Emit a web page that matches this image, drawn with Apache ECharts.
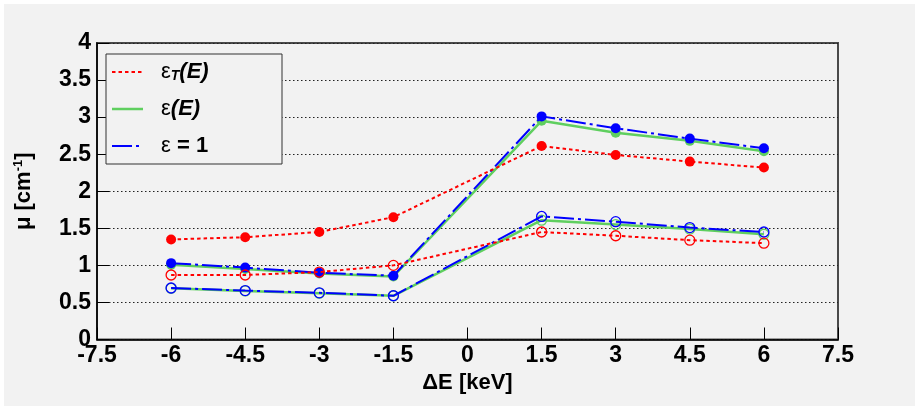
<!DOCTYPE html>
<html>
<head>
<meta charset="utf-8">
<script src="https://cdn.jsdelivr.net/npm/echarts@6/dist/echarts.min.js"></script>
<style>
  html, body { margin: 0; padding: 0; background: #ffffff; }
  #chart { position: absolute; left: 4px; top: 4px; width: 911px; height: 402px; }
</style>
</head>
<body>
<div id="chart"></div>
<script>
// Energy offsets (keV)
const deltaE = [-6, -4.5, -3, -1.5, 1.5, 3, 4.5, 6];

// Attenuation coefficient mu [cm^-1], two curves (filled / open markers) per efficiency model
const muEpsT_filled = [1.35, 1.38, 1.45, 1.65, 2.61, 2.49, 2.40, 2.32];
const muEpsT_open   = [0.87, 0.87, 0.91, 1.00, 1.45, 1.40, 1.34, 1.30];
const muEps_filled  = [1.01, 0.95, 0.89, 0.85, 2.95, 2.79, 2.68, 2.54];
const muEps_open    = [0.69, 0.655, 0.625, 0.59, 1.61, 1.55, 1.49, 1.42];
const muOne_filled  = [1.03, 0.97, 0.90, 0.86, 3.01, 2.85, 2.71, 2.58];
const muOne_open    = [0.695, 0.66, 0.63, 0.59, 1.66, 1.59, 1.51, 1.45];

// Axis ticks
const xTicks = { min: -7.5, max: 7.5, step: 1.5 };
const yTicks = { min: 0, max: 4, step: 0.5 };

const RED = '#ff0000', GREEN = '#5fcf5f', BLUE = '#0000ff', BG = '#f2f2f2';
const FONT = '"Liberation Sans", Arial, sans-serif';

const pairs = ys => deltaE.map((x, i) => [x, ys[i]]);

function curve(name, ys, color, lineType, width, filled, z) {
  return {
    name: name,
    type: 'line',
    data: pairs(ys),
    z: z,
    symbol: 'circle',
    symbolSize: 10,
    showSymbol: true,
    animation: false,
    lineStyle: { color: color, width: width, type: lineType },
    itemStyle: filled
      ? { color: color, borderColor: color, borderWidth: 0 }
      : { color: 'rgba(0,0,0,0)', borderColor: color, borderWidth: 1.3 },
    emphasis: { disabled: true }
  };
}

const dotted = [3.5, 3];
const dashDot = [20, 4, 3, 4];

const chart = echarts.init(document.getElementById('chart'), null, { renderer: 'canvas' });

const legendX = 102, legendY = 50;
const rowY = [legendY + 18, legendY + 55, legendY + 92];

chart.setOption({
  backgroundColor: BG,
  animation: false,
  grid: {
    left: 93, right: 77, top: 39, bottom: 66.5,
    show: true, borderColor: '#4a4a4a', borderWidth: 2, backgroundColor: 'transparent'
  },
  xAxis: {
    type: 'value',
    min: xTicks.min, max: xTicks.max, interval: xTicks.step,
    name: 'ΔE [keV]',
    nameLocation: 'middle',
    nameGap: 31,
    nameTextStyle: { fontFamily: FONT, fontWeight: 'bold', fontSize: 22, color: '#000' },
    axisLine: { show: true, onZero: false, lineStyle: { color: '#000', width: 1.5 } },
    axisTick: { show: true, inside: true, length: 12, lineStyle: { color: '#000', width: 1 } },
    axisLabel: { fontFamily: FONT, fontWeight: 'bold', fontSize: 23, color: '#000', margin: 5,
                 showMinLabel: true, showMaxLabel: true },
    splitLine: { show: false }
  },
  yAxis: {
    type: 'value',
    min: yTicks.min, max: yTicks.max, interval: yTicks.step,
    name: 'μ [cm{sup|-1}]',
    nameLocation: 'middle',
    nameGap: 62,
    nameRotate: 90,
    nameTextStyle: {
      fontFamily: FONT, fontWeight: 'bold', fontSize: 22, color: '#000',
      rich: { sup: { fontFamily: FONT, fontWeight: 'bold', fontSize: 13, color: '#000', verticalAlign: 'top', padding: [0, 0, 10, 0] } }
    },
    axisLine: { show: true, onZero: false, lineStyle: { color: '#000', width: 1.5 } },
    axisTick: { show: true, inside: true, length: 12, lineStyle: { color: '#000', width: 1 } },
    axisLabel: { fontFamily: FONT, fontWeight: 'bold', fontSize: 23, color: '#000', margin: 6 },
    splitLine: { show: true, lineStyle: { color: '#222', width: 1, type: [1.5, 2.5] } }
  },
  series: [
    curve('ε(E) filled', muEps_filled, GREEN, 'solid', 2.5, true, 2),
    curve('ε(E) open', muEps_open, GREEN, 'solid', 2.5, false, 2),
    curve('ε = 1 filled', muOne_filled, BLUE, dashDot, 2, true, 3),
    curve('ε = 1 open', muOne_open, BLUE, dashDot, 2, false, 3),
    curve('εT(E) filled', muEpsT_filled, RED, dotted, 2, true, 4),
    curve('εT(E) open', muEpsT_open, RED, dotted, 2, false, 4)
  ],
  graphic: [
    {
      type: 'rect', z: 100,
      shape: { x: legendX, y: legendY, width: 176, height: 110 },
      style: { fill: BG, stroke: '#333', lineWidth: 1 }
    },
    { type: 'line', z: 101, shape: { x1: legendX + 6, y1: rowY[0], x2: legendX + 37, y2: rowY[0] },
      style: { stroke: RED, lineWidth: 2, lineDash: dotted } },
    { type: 'line', z: 101, shape: { x1: legendX + 6, y1: rowY[1], x2: legendX + 37, y2: rowY[1] },
      style: { stroke: GREEN, lineWidth: 2.5 } },
    { type: 'line', z: 101, shape: { x1: legendX + 6, y1: rowY[2], x2: legendX + 37, y2: rowY[2] },
      style: { stroke: BLUE, lineWidth: 2, lineDash: dashDot } },
    { type: 'text', z: 101, style: {
        x: legendX + 55, y: rowY[0], verticalAlign: 'middle',
        text: '{g|ε}{s|T}{i|(E)}',
        rich: {
          g: { fontFamily: FONT, fontSize: 22, color: '#000' },
          s: { fontFamily: FONT, fontSize: 14, fontWeight: 'bold', fontStyle: 'italic', color: '#000', verticalAlign: 'bottom', padding: [8, 0, 0, 0] },
          i: { fontFamily: FONT, fontSize: 22, fontWeight: 'bold', fontStyle: 'italic', color: '#000' }
        } } },
    { type: 'text', z: 101, style: {
        x: legendX + 55, y: rowY[1], verticalAlign: 'middle',
        text: '{g|ε}{i|(E)}',
        rich: {
          g: { fontFamily: FONT, fontSize: 22, color: '#000' },
          i: { fontFamily: FONT, fontSize: 22, fontWeight: 'bold', fontStyle: 'italic', color: '#000' }
        } } },
    { type: 'text', z: 101, style: {
        x: legendX + 55, y: rowY[2], verticalAlign: 'middle',
        text: '{g|ε}{b| = 1}',
        rich: {
          g: { fontFamily: FONT, fontSize: 22, color: '#000' },
          b: { fontFamily: FONT, fontSize: 22, fontWeight: 'bold', color: '#000' }
        } } }
  ]
});
</script>
</body>
</html>
